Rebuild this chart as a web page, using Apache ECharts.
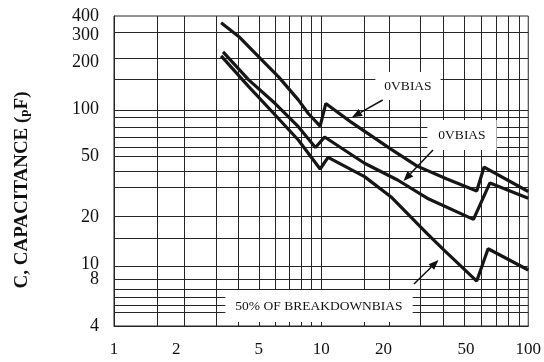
<!DOCTYPE html>
<html><head><meta charset="utf-8">
<script src="https://cdn.jsdelivr.net/npm/echarts@6/dist/echarts.min.js"></script>
<style>html,body{margin:0;padding:0;background:#fff}#c{width:544px;height:362px}</style>
</head><body><div id="c"></div>
<script>
// ---- data ----
const xTickLabels = [1, 2, 5, 10, 20, 50, 100];
const yTickLabels = [4, 8, 10, 20, 50, 100, 200, 300, 400];
const xGridLines = [1.61, 2.19, 3.12, 4, 5, 6, 7, 8, 9, 10, 16.2, 21.3, 30, 39, 49, 59, 70, 80, 90];
const yGridLines = [314, 215, 156, 99, 89, 77, 66.5, 57, 49.5, 39.6, 31.4, 20.3, 14.7, 9.66, 8.05, 6.9, 6.13, 5.46, 4.88];

const voltageA = [3.29, 4.01, 5.0, 6.23, 7.76, 8.67, 9.89, 10.53, 13.9, 21.9, 29.1, 40.5, 56.4, 61.2, 100];
const capA     = [362, 294, 218, 162, 115, 94, 78, 109, 83, 55, 43, 35.5, 29.7, 42.4, 29.5];
const voltageB = [3.36, 4.47, 6.0, 7.76, 9.39, 10.4, 16.2, 23.4, 32.5, 54.4, 65.3, 100];
const capB     = [235, 155, 109, 77.2, 56.7, 66.3, 44.9, 35, 26.7, 19.5, 33.5, 26.7];
const voltageC = [3.29, 4.47, 6.0, 7.76, 9.89, 10.8, 16.2, 21.7, 32.5, 39.1, 56.4, 64.0, 100];
const capC     = [221, 140, 91.9, 63.4, 41.2, 49, 36.8, 27.3, 15.8, 12.4, 7.8, 12.6, 9.19];

const annotationTexts = ['0VBIAS', '0VBIAS', '50% OF BREAKDOWNBIAS'];
const yTitleText = 'C, CAPACITANCE ({s|p}F)';

// ---- layout / style ----
const FONT = '"Liberation Serif", "Times New Roman", serif';
const gridColor = '#262626';
const curveColor = '#161616';

function pairs(xs, ys) { return xs.map((x, i) => [x, ys[i]]); }

function arrow(x1, y1, x2, y2) {
  const ang = Math.atan2(y2 - y1, x2 - x1);
  const L = 10, W = 4;
  const bx = x2 - L * Math.cos(ang), by = y2 - L * Math.sin(ang);
  const px = -Math.sin(ang) * W, py = Math.cos(ang) * W;
  return [
    { type: 'line', z: 20, shape: { x1: x1, y1: y1, x2: bx, y2: by }, style: { stroke: '#111', lineWidth: 1.5 } },
    { type: 'polygon', z: 20, shape: { points: [[x2, y2], [bx + px, by + py], [bx - px, by - py]] }, style: { fill: '#111' } }
  ];
}

function box(text, cx, cy, padV, padH) {
  return {
    type: 'text', z: 15, x: cx, y: cy,
    style: {
      text: text, font: '13.5px ' + FONT, fill: '#111',
      align: 'center', verticalAlign: 'middle',
      backgroundColor: '#fff', padding: [padV, padH]
    }
  };
}

const chart = echarts.init(document.getElementById('c'), null, { renderer: 'canvas' });

const gridLineData = xGridLines.map(v => ({ xAxis: v })).concat(yGridLines.map(v => ({ yAxis: v })));

function curve(name, data) {
  return {
    name: name, type: 'line', data: data, z: 5,
    symbol: 'none', smooth: false, animation: false,
    lineStyle: { color: curveColor, width: 3.2 }
  };
}

chart.setOption({
  animation: false,
  backgroundColor: '#fff',
  grid: { left: 114, right: 12, top: 16, bottom: 36, show: true, borderColor: gridColor, borderWidth: 1 },
  xAxis: {
    type: 'log', logBase: 10, min: 1, max: 100,
    axisLine: { show: true, lineStyle: { color: gridColor, width: 1 } },
    axisTick: { show: false },
    splitLine: { show: false },
    minorSplitLine: { show: false },
    axisLabel: { customValues: xTickLabels, color: '#111', fontFamily: FONT, fontSize: 17, margin: 15,
      formatter: v => String(v) }
  },
  yAxis: {
    type: 'log', logBase: 10, min: 4, max: 400,
    axisLine: { show: true, lineStyle: { color: gridColor, width: 1 } },
    axisTick: { show: false },
    splitLine: { show: false },
    axisLabel: { customValues: yTickLabels, color: '#111', fontFamily: FONT, fontSize: 18, margin: 15,
      formatter: v => String(v) }
  },
  series: [
    {
      name: 'grid', type: 'line', data: [], z: 1, silent: true,
      markLine: {
        silent: true, symbol: ['none', 'none'], animation: false,
        label: { show: false },
        lineStyle: { color: gridColor, width: 1, type: 'solid' },
        emphasis: { disabled: true },
        data: gridLineData
      }
    },
    curve('0V bias (upper)', pairs(voltageA, capA)),
    curve('0V bias (lower)', pairs(voltageB, capB)),
    curve('50% of breakdown bias', pairs(voltageC, capC))
  ],
  graphic: [
    box(annotationTexts[0], 408, 86, 7, 9),
    box(annotationTexts[1], 462, 135, 8, 11),
    box(annotationTexts[2], 319, 306, 9, 10),
    ...arrow(382.7, 100, 352, 117.3),
    ...arrow(433, 150, 403.5, 181),
    ...arrow(414, 284, 438.5, 260),
    {
      type: 'text', z: 10, x: 22, y: 190, rotation: Math.PI / 2,
      style: {
        text: yTitleText, font: 'bold 19px ' + FONT, fill: '#111',
        align: 'center', verticalAlign: 'middle',
        rich: { s: { font: 'bold 13px ' + FONT, fill: '#111', padding: [5, 0, 0, 0] } }
      }
    }
  ]
});
</script>
</body></html>
